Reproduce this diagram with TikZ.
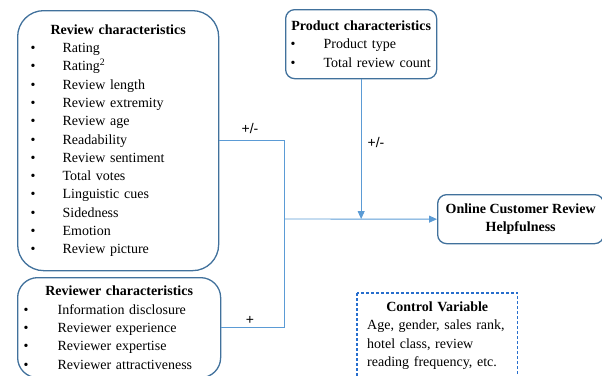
\documentclass[tikz,border=0pt]{standalone}
\usepackage{fontspec}
\setmainfont{Liberation Serif}
\newfontfamily\signfont{Liberation Sans}
\usetikzlibrary{arrows.meta,positioning,calc}
\definecolor{boxblue}{RGB}{65,113,156}
\definecolor{lineblue}{RGB}{91,155,213}
\definecolor{dashblue}{RGB}{40,110,205}
\newcommand{\bul}[1]{\makebox[#1][l]{\textbullet}}

\begin{document}
\begin{tikzpicture}[x=1pt,y=-1pt,
    box/.style={draw=boxblue, line width=1.3pt, anchor=north west, align=left,
        font=\fontsize{14}{18.3}\selectfont},
    ctrlbox/.style={anchor=north west, align=left, font=\fontsize{14}{18.3}\selectfont,
        text=black},
    conn/.style={draw=lineblue, line width=0.9pt},
    tip/.style={-{Triangle[length=8pt,width=7pt]}},
    sign/.style={font=\signfont\fontsize{14}{16}\selectfont}]
    % 画布
    \clip (0,0) rectangle (602,375);

    % 四个框
    \node[box, rounded corners=26pt, minimum width=201pt, minimum height=260pt,
        text width=175pt, inner xsep=13pt] (rev) at (17,10) {%
        {\centering\textbf{Review characteristics}\par}
        \bul{32pt}Rating\par
        \bul{32pt}Rating\textsuperscript{2}\par
        \bul{32pt}Review length\par
        \bul{32pt}Review extremity\par
        \bul{32pt}Review age\par
        \bul{32pt}Readability\par
        \bul{32pt}Review sentiment\par
        \bul{32pt}Total votes\par
        \bul{32pt}Linguistic cues\par
        \bul{32pt}Sidedness\par
        \bul{32pt}Emotion\par
        \bul{32pt}Review picture};

    \node[box, rounded corners=20pt, minimum width=203pt, minimum height=100pt,
        text width=191pt, inner xsep=6pt] (revr) at (17,277) {%
        {\centering\textbf{Reviewer characteristics}\par}
        \bul{34pt}Information disclosure\par
        \bul{34pt}Reviewer experience\par
        \bul{34pt}Reviewer expertise\par
        \bul{34pt}Reviewer attractiveness};

    \node[box, rounded corners=9pt, minimum width=151pt, minimum height=69pt,
        text width=141pt, inner xsep=5pt] (prod) at (285,9) {%
        {\centering\textbf{Product characteristics}\par}
        \bul{33pt}Product type\par
        \bul{33pt}Total review count};

    \node[box, rounded corners=9pt, minimum width=166pt, minimum height=49pt,
        align=center, font=\fontsize{14}{18}\selectfont\bfseries] (out) at (437,194)
        {Online Customer Review\\Helpfulness};

    % 控制变量
    \node[ctrlbox, minimum width=160pt, minimum height=85pt,
        text width=140pt, inner xsep=10pt] (ctrl) at (357,293) {%
        {\centering\textbf{Control Variable}\par}
        Age, gender, sales rank,\par
        hotel class, review\par
        reading frequency, etc.};
    \draw[dashblue, line width=1.2pt, dash pattern=on 3pt off 2pt]
        (ctrl.north west) rectangle (ctrl.south east);

    % 连线
    \coordinate (join) at (284,219);
    \draw[conn] (rev.east) -| (join);
    \draw[conn] (revr.east) -| (join);
    \draw[conn,tip] (join) -- (out.west);
    \draw[conn,tip] (prod.south) -- (prod.south |- join);

    % 符号
    \node[sign] (s1) at (250,128) {+/-};
    \node[sign] (s2) at (376,142) {+/-};
    \node[sign] (s3) at (250,320) {+};
\end{tikzpicture}
\end{document}
